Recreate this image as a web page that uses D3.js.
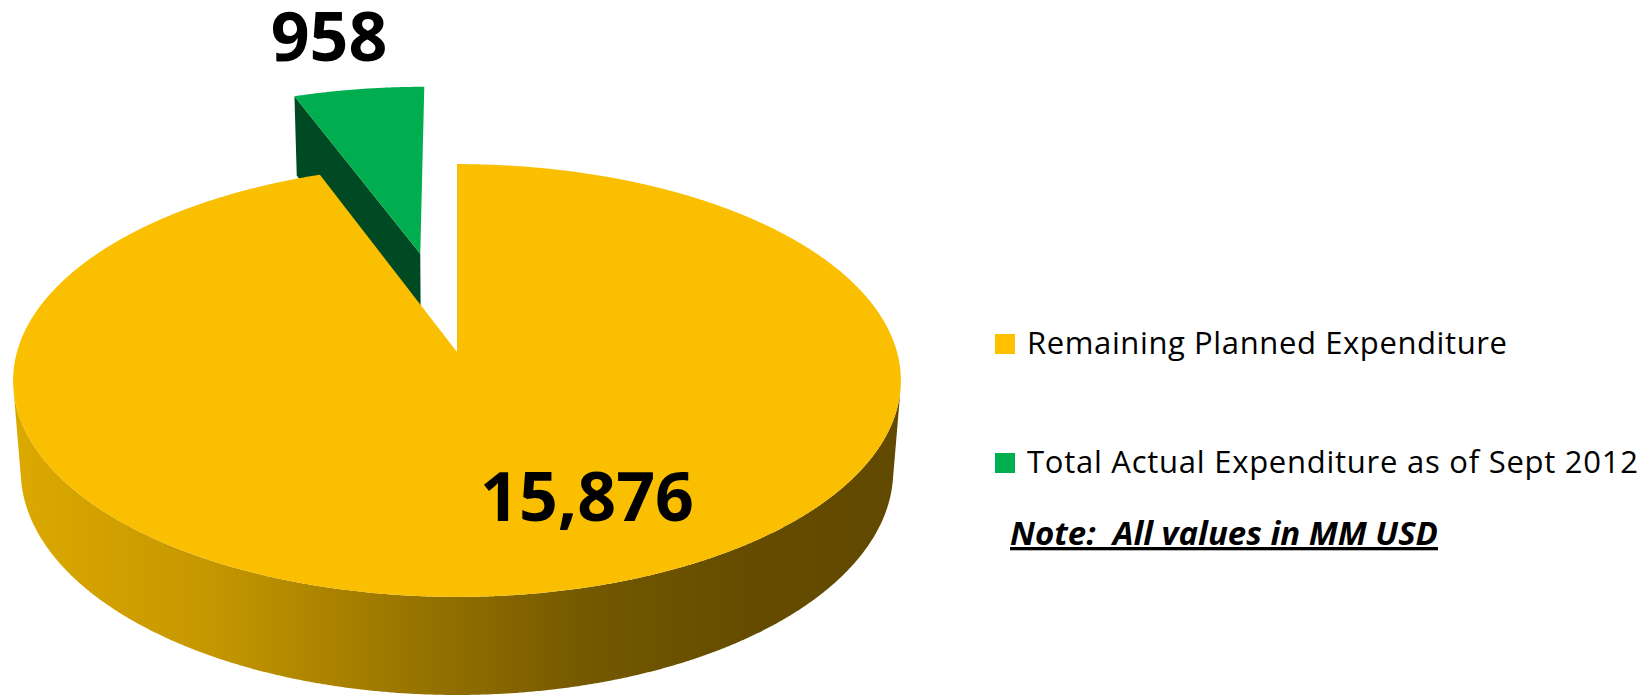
<!DOCTYPE html>
<html>
<head>
<meta charset="utf-8">
<script src="https://cdn.jsdelivr.net/npm/d3@7"></script>
<style>
  body { margin: 0; background: #fff; }
  svg { display: block; }
</style>
</head>
<body>
<div id="chart"></div>
<script>
// data
var categories = ["Remaining Planned Expenditure", "Total Actual Expenditure as of Sept 2012"];
var values = [15876, 958];
var valueLabels = ["15,876", "958"];
var noteText = "Note:  All values in MM USD";

(function() {
  var width = 1650, height = 696;

  var svg = d3.select("#chart")
    .append("svg")
    .attr("width", width)
    .attr("height", height);

  // colours per slice
  var topColors = ["#f9bf00", "#00ae4f"],
    faceColors = ["#6a5000", "#004a23"],
    sideColors = ["url(#gold-side)", "#00803a"],
    legendColors = ["#ffc000", "#00b050"],
    explode = [0, 0.5];

  // 3d view: pie of radius 1 lying flat, camera tilted down on it
  var view = { cx: 457, cy: 352, f: 2927, dist: 6.652, tilt: 28.9 * Math.PI / 180, thick: 0.2364 };
  var sinT = Math.sin(view.tilt), cosT = Math.cos(view.tilt);
  var cam = [0, view.dist * sinT, -view.dist * cosT];

  function project(x, y, z) {
    var d = view.dist + z * cosT - y * sinT;
    return [view.cx + view.f * x / d, view.cy - view.f * (z * sinT + y * cosT) / d];
  }

  var line = d3.line();
  var step = 0.25 * Math.PI / 180;

  var defs = svg.append("defs");
  var grad = defs.append("linearGradient")
    .attr("id", "gold-side")
    .attr("gradientUnits", "userSpaceOnUse")
    .attr("x1", 14).attr("x2", 902).attr("y1", 0).attr("y2", 0);
  [[0, "#dca900"], [0.22, "#c59700"], [0.44, "#9a7600"], [0.64, "#755900"], [0.82, "#654c00"], [1, "#614900"]]
    .forEach(function(s) {
      grad.append("stop").attr("offset", s[0]).attr("stop-color", s[1]);
    });

  var pie = d3.pie().sort(null).value(function(d) { return d; });
  var slices = pie(values).map(function(d, i) {
    var mid = (d.startAngle + d.endAngle) / 2;
    d.i = i;
    d.ox = explode[i] * Math.sin(mid);
    d.oz = explode[i] * Math.cos(mid);
    d.cz = d.oz + 0.5 * Math.cos(mid);
    return d;
  });

  function pt(s, a, r, y) {
    return project(s.ox + r * Math.sin(a), y, s.oz + r * Math.cos(a));
  }

  function arcPts(s, a0, a1, y) {
    var n = Math.max(2, Math.ceil(Math.abs(a1 - a0) / step));
    return d3.range(n + 1).map(function(k) {
      return pt(s, a0 + (a1 - a0) * k / n, 1, y);
    });
  }

  function sideVisible(s, a) {
    return -s.ox * Math.sin(a) - s.oz * Math.cos(a) - view.dist * cosT * Math.cos(a) - 1 > 0;
  }

  function sideRuns(s) {
    var runs = [], cur = null;
    var n = Math.ceil((s.endAngle - s.startAngle) / step);
    for (var k = 0; k <= n; k++) {
      var a = s.startAngle + (s.endAngle - s.startAngle) * k / n;
      if (sideVisible(s, a)) {
        if (!cur) { cur = [a, a]; runs.push(cur); }
        cur[1] = a;
      } else {
        cur = null;
      }
    }
    return runs;
  }

  // far slices first
  slices.slice().sort(function(a, b) { return b.cz - a.cz; }).forEach(function(s) {
    var g = svg.append("g").attr("class", "slice");
    var h = -view.thick;

    // outer wall
    sideRuns(s).forEach(function(r) {
      var poly = arcPts(s, r[0], r[1], 0).concat(arcPts(s, r[1], r[0], h));
      g.append("path")
        .attr("d", line(poly) + "Z")
        .attr("fill", sideColors[s.i]);
    });

    // cut faces (skip the ones seen nearly edge-on)
    [[s.startAngle, -1], [s.endAngle, 1]].forEach(function(e) {
      var a = e[0];
      var n = [e[1] * Math.cos(a), 0, -e[1] * Math.sin(a)];
      var dot = (cam[0] - s.ox) * n[0] + cam[1] * n[1] + (cam[2] - s.oz) * n[2];
      if (dot < 0.5) return;
      var poly = [
        project(s.ox, 0, s.oz),
        pt(s, a, 1, 0),
        pt(s, a, 1, h),
        project(s.ox, h, s.oz)
      ];
      g.append("path")
        .attr("d", line(poly) + "Z")
        .attr("fill", faceColors[s.i]);
    });

    // top
    var top = [project(s.ox, 0, s.oz)].concat(arcPts(s, s.startAngle, s.endAngle, 0));
    g.append("path")
      .attr("d", line(top) + "Z")
      .attr("fill", topColors[s.i]);
  });

  // value labels
  var labelPos = [[587, 521], [329, 61]];
  svg.selectAll(".value-label")
    .data(valueLabels)
    .enter().append("text")
    .attr("class", "value-label")
    .attr("x", function(d, i) { return labelPos[i][0]; })
    .attr("y", function(d, i) { return labelPos[i][1]; })
    .attr("text-anchor", "middle")
    .attr("font-family", "'Open Sans', sans-serif")
    .attr("font-weight", "bold")
    .attr("font-size", 68)
    .attr("fill", "#000")
    .text(function(d) { return d; });

  // legend
  var legendY = [354, 473], legendW = [480, 611];
  var legend = svg.selectAll(".legend")
    .data(categories)
    .enter().append("g")
    .attr("class", "legend")
    .attr("transform", function(d, i) { return "translate(995," + legendY[i] + ")"; });

  legend.append("rect")
    .attr("x", 0)
    .attr("y", -20)
    .attr("width", 20)
    .attr("height", 20)
    .attr("fill", function(d, i) { return legendColors[i]; });

  legend.append("text")
    .attr("x", 32)
    .attr("y", 0)
    .attr("font-family", "'Open Sans', sans-serif")
    .attr("font-size", 31)
    .attr("fill", "#000")
    .text(function(d) { return d; })
    .each(function(d, i) {
      var w = this.getComputedTextLength();
      if (Math.abs(w - legendW[i]) > 4) d3.select(this).attr("textLength", legendW[i]);
    });

  // note, sized to the reference width
  var note = svg.append("text")
    .attr("x", 1010)
    .attr("y", 545)
    .attr("font-family", "'Open Sans', sans-serif")
    .attr("font-size", 28)
    .attr("font-weight", "bold")
    .attr("font-style", "italic")
    .attr("text-decoration", "underline")
    .style("white-space", "pre")
    .attr("fill", "#000")
    .text(noteText);
  var nw = note.node().getComputedTextLength();
  note.attr("font-size", Math.min(33, 28 * 434 / nw));
})();
</script>
</body>
</html>
